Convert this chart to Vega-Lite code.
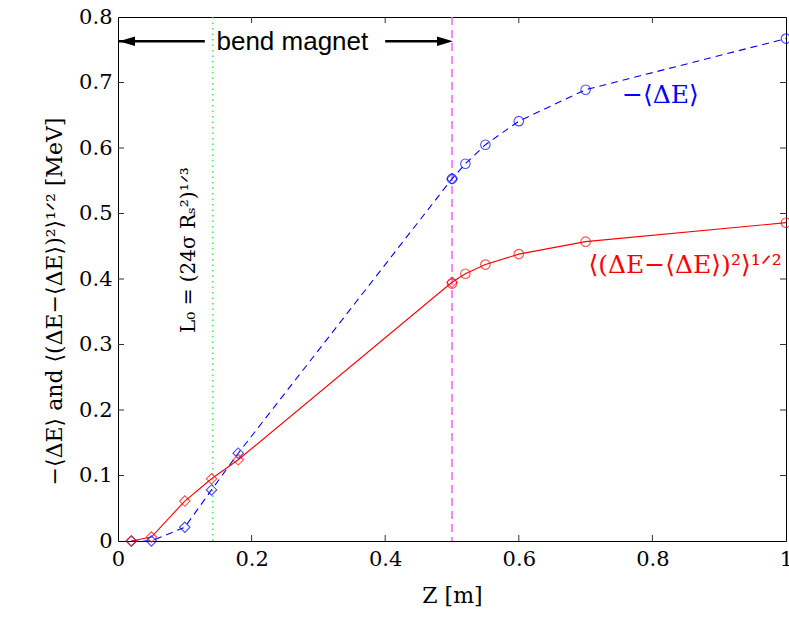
{
  "$schema": "https://vega.github.io/schema/vega-lite/v6.json",
  "width": 668,
  "height": 524,
  "autosize": "none",
  "padding": {"left": 118, "top": 17, "right": 3, "bottom": 82},
  "background": "white",
  "config": {
    "view": {"stroke": "black", "strokeWidth": 1},
    "axis": {"grid": false, "domainColor": "black", "tickColor": "black", "labelFont": "DejaVu Serif", "titleFont": "DejaVu Serif", "labelColor": "black", "titleColor": "black", "labelFontSize": 21, "titleFontSize": 22, "titleFontWeight": "normal", "domain": false, "ticks": false}
  },
  "datasets": {
    "pts": [
      {"z": 0.02, "v": 0.0, "s": "mean", "k": "diamond"},
      {"z": 0.05, "v": 0.0, "s": "mean", "k": "diamond"},
      {"z": 0.1, "v": 0.021, "s": "mean", "k": "diamond"},
      {"z": 0.14, "v": 0.078, "s": "mean", "k": "diamond"},
      {"z": 0.18, "v": 0.134, "s": "mean", "k": "diamond"},
      {"z": 0.5, "v": 0.553, "s": "mean", "k": "diamond"},
      {"z": 0.5, "v": 0.553, "s": "mean", "k": "circle"},
      {"z": 0.52, "v": 0.576, "s": "mean", "k": "circle"},
      {"z": 0.55, "v": 0.605, "s": "mean", "k": "circle"},
      {"z": 0.6, "v": 0.641, "s": "mean", "k": "circle"},
      {"z": 0.7, "v": 0.689, "s": "mean", "k": "circle"},
      {"z": 1.0, "v": 0.767, "s": "mean", "k": "circle"},
      {"z": 0.02, "v": 0.0, "s": "rms", "k": "diamond"},
      {"z": 0.05, "v": 0.006, "s": "rms", "k": "diamond"},
      {"z": 0.1, "v": 0.061, "s": "rms", "k": "diamond"},
      {"z": 0.14, "v": 0.095, "s": "rms", "k": "diamond"},
      {"z": 0.18, "v": 0.124, "s": "rms", "k": "diamond"},
      {"z": 0.5, "v": 0.395, "s": "rms", "k": "diamond"},
      {"z": 0.5, "v": 0.393, "s": "rms", "k": "circle"},
      {"z": 0.52, "v": 0.408, "s": "rms", "k": "circle"},
      {"z": 0.55, "v": 0.422, "s": "rms", "k": "circle"},
      {"z": 0.6, "v": 0.438, "s": "rms", "k": "circle"},
      {"z": 0.7, "v": 0.457, "s": "rms", "k": "circle"},
      {"z": 1.0, "v": 0.486, "s": "rms", "k": "circle"}
    ],
    "xticks": [{"t": 0.2}, {"t": 0.4}, {"t": 0.6}, {"t": 0.8}],
    "yticks": [{"t": 0.1}, {"t": 0.2}, {"t": 0.3}, {"t": 0.4}, {"t": 0.5}, {"t": 0.6}, {"t": 0.7}]
  },
  "encoding": {
    "x": {"type": "quantitative", "scale": {"domain": [0, 1], "nice": false}},
    "y": {"type": "quantitative", "scale": {"domain": [0, 0.8], "nice": false}}
  },
  "layer": [
    {
      "data": {"values": [{"z": 0.142}]},
      "mark": {"type": "rule", "color": "#22dd22", "strokeDash": [1.5, 4], "strokeWidth": 1.2},
      "encoding": {
        "x": {"field": "z", "type": "quantitative"}
      }
    },
    {
      "data": {"values": [{"z": 0.5}]},
      "mark": {"type": "rule", "color": "#ff66ff", "strokeDash": [8, 5], "strokeWidth": 1.6},
      "encoding": {
        "x": {"field": "z", "type": "quantitative"}
      }
    },
    {
      "data": {"name": "xticks"},
      "mark": {"type": "rule", "color": "#333333", "strokeWidth": 1},
      "encoding": {
        "x": {"field": "t", "type": "quantitative"},
        "y": {"datum": 0, "type": "quantitative"},
        "y2": {"datum": 0.0092}
      }
    },
    {
      "data": {"name": "xticks"},
      "mark": {"type": "rule", "color": "#333333", "strokeWidth": 1},
      "encoding": {
        "x": {"field": "t", "type": "quantitative"},
        "y": {"datum": 0.8, "type": "quantitative"},
        "y2": {"datum": 0.7908}
      }
    },
    {
      "data": {"name": "yticks"},
      "mark": {"type": "rule", "color": "#333333", "strokeWidth": 1},
      "encoding": {
        "y": {"field": "t", "type": "quantitative"},
        "x": {"datum": 0, "type": "quantitative"},
        "x2": {"datum": 0.009}
      }
    },
    {
      "data": {"name": "yticks"},
      "mark": {"type": "rule", "color": "#333333", "strokeWidth": 1},
      "encoding": {
        "y": {"field": "t", "type": "quantitative"},
        "x": {"datum": 1, "type": "quantitative"},
        "x2": {"datum": 0.991}
      }
    },
    {
      "data": {"name": "pts"},
      "transform": [{"filter": "datum.s == 'mean' && !(datum.k == 'circle' && datum.z == 0.5)"}],
      "mark": {"type": "line", "color": "#0000ff", "strokeDash": [7, 5], "strokeWidth": 1.1, "interpolate": "linear"},
      "encoding": {
        "x": {"field": "z", "type": "quantitative"},
        "y": {"field": "v", "type": "quantitative"}
      }
    },
    {
      "data": {"name": "pts"},
      "transform": [{"filter": "datum.s == 'rms' && !(datum.k == 'circle' && datum.z == 0.5)"}],
      "mark": {"type": "line", "color": "#ff0000", "strokeWidth": 1.1, "interpolate": "linear"},
      "encoding": {
        "x": {"field": "z", "type": "quantitative",
          "axis": {"orient": "bottom", "title": "Z [m]", "values": [0, 0.2, 0.4, 0.6, 0.8, 1], "labelExpr": "format(datum.value, '~g')", "labelPadding": 7, "titlePadding": 16, "labelFlush": false}},
        "y": {"field": "v", "type": "quantitative",
          "axis": {"orient": "left", "title": "−⟨ΔE⟩ and ⟨(ΔE−⟨ΔE⟩)²⟩¹ᐟ² [MeV]", "titleY": 284, "values": [0, 0.1, 0.2, 0.3, 0.4, 0.5, 0.6, 0.7, 0.8], "labelExpr": "format(datum.value, '~g')", "labelPadding": 6, "titlePadding": 12, "labelFlush": false}}
      }
    },
    {
      "data": {"name": "pts"},
      "mark": {"type": "point", "filled": false, "strokeWidth": 1.1},
      "encoding": {
        "x": {"field": "z", "type": "quantitative"},
        "y": {"field": "v", "type": "quantitative"},
        "color": {"field": "s", "type": "nominal", "scale": {"domain": ["mean", "rms"], "range": ["#0000ff", "#ff0000"]}, "legend": null},
        "shape": {"field": "k", "type": "nominal", "scale": {"domain": ["diamond", "circle"], "range": ["diamond", "circle"]}, "legend": null},
        "size": {"field": "k", "type": "nominal", "scale": {"domain": ["diamond", "circle"], "range": [110, 90]}, "legend": null}
      }
    },
    {
      "data": {"values": [{"a": 0.0015, "b": 0.13, "y": 0.763}, {"a": 0.40, "b": 0.49, "y": 0.763}]},
      "mark": {"type": "rule", "color": "black", "strokeWidth": 2.5},
      "encoding": {
        "x": {"field": "a", "type": "quantitative"},
        "x2": {"field": "b"},
        "y": {"field": "y", "type": "quantitative"}
      }
    },
    {
      "data": {"values": [{"z": 0.0135, "y": 0.763, "d": "l"}]},
      "mark": {"type": "point", "filled": true, "color": "black", "opacity": 1, "shape": "M-1,0L1,-0.6L1,0.6Z", "size": 256},
      "encoding": {
        "x": {"field": "z", "type": "quantitative"},
        "y": {"field": "y", "type": "quantitative"}
      }
    },
    {
      "data": {"values": [{"z": 0.4895, "y": 0.763, "d": "r"}]},
      "mark": {"type": "point", "filled": true, "color": "black", "opacity": 1, "shape": "M1,0L-1,-0.6L-1,0.6Z", "size": 256},
      "encoding": {
        "x": {"field": "z", "type": "quantitative"},
        "y": {"field": "y", "type": "quantitative"}
      }
    },
    {
      "data": {"values": [{"z": 0.261, "y": 0.763, "t": "bend magnet"}]},
      "mark": {"type": "text", "font": "Liberation Sans", "fontSize": 26, "color": "black", "baseline": "middle", "align": "center", "dy": 1},
      "encoding": {
        "x": {"field": "z", "type": "quantitative"},
        "y": {"field": "y", "type": "quantitative"},
        "text": {"field": "t"}
      }
    },
    {
      "data": {"values": [{"z": 0.107, "y": 0.444, "t": "L₀ = (24σ Rₛ²)¹ᐟ³"}]},
      "mark": {"type": "text", "font": "DejaVu Serif", "fontSize": 20, "color": "black", "baseline": "middle", "align": "center", "angle": 270},
      "encoding": {
        "x": {"field": "z", "type": "quantitative"},
        "y": {"field": "y", "type": "quantitative"},
        "text": {"field": "t"}
      }
    },
    {
      "data": {"values": [{"z": 0.812, "y": 0.681, "t": "−⟨ΔE⟩", "c": "b"}, {"z": 0.849, "y": 0.421, "t": "⟨(ΔE−⟨ΔE⟩)²⟩¹ᐟ²", "c": "r"}]},
      "mark": {"type": "text", "font": "DejaVu Serif", "fontSize": 25, "baseline": "middle", "align": "center"},
      "encoding": {
        "x": {"field": "z", "type": "quantitative"},
        "y": {"field": "y", "type": "quantitative"},
        "text": {"field": "t"},
        "color": {"field": "c", "type": "nominal", "scale": {"domain": ["b", "r"], "range": ["#0000ff", "#ff0000"]}, "legend": null}
      }
    }
  ]
}
